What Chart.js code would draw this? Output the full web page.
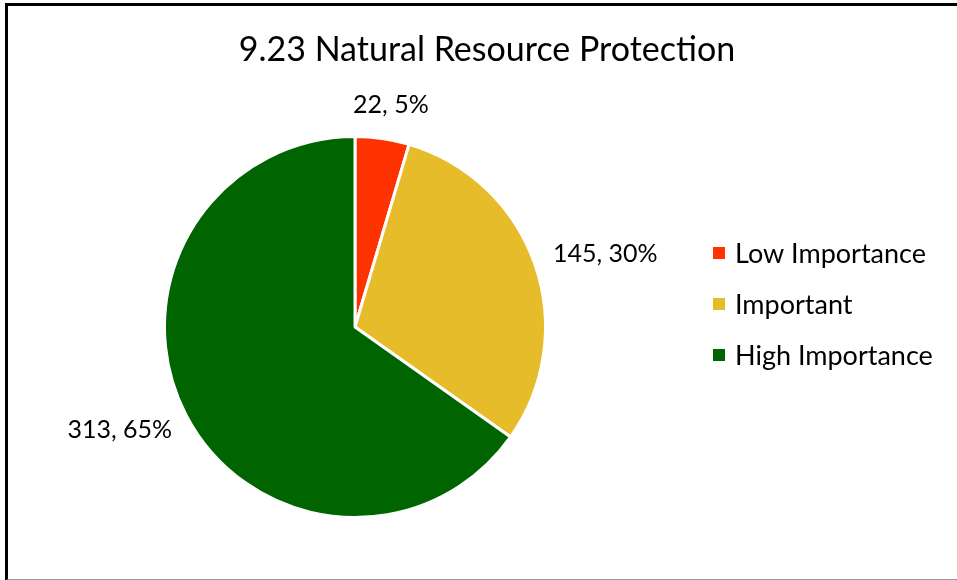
<!DOCTYPE html>
<html>
<head>
<meta charset="utf-8">
<script src="https://cdn.jsdelivr.net/npm/chart.js@4"></script>
<style>
  body { margin: 0; background: #fff; }
  #wrap { position: relative; width: 957px; height: 580px; overflow: hidden; }
  #frame { position: absolute; left: 5px; top: 3px; width: 1000px; height: 573px;
           border-left: 3px solid #000; border-top: 3px solid #000; border-bottom: 2px solid #999; }
  canvas { position: absolute; left: 0; top: 0; }
</style>
</head>
<body>
<div id="wrap">
  <div id="frame"></div>
  <canvas id="pieChart" width="957" height="580"></canvas>
</div>
<script>
// chart data
const chartTitle = '9.23 Natural Resource Protection';
const categories = ['Low Importance', 'Important', 'High Importance'];
const counts = [22, 145, 313];
const percents = ['5%', '30%', '65%'];
const sliceColors = ['#FF3300', '#E6BC2B', '#006400'];

const FONT = 'Lato, "Open Sans", sans-serif';

// title, data labels and legend drawn by hand so they sit where Excel put them
const extrasPlugin = {
    id: 'extras',
    afterDraw(chart) {
        const ctx = chart.ctx;
        const meta = chart.getDatasetMeta(0);
        ctx.save();
        ctx.fillStyle = '#000';

        // title
        ctx.font = '34px ' + FONT;
        ctx.textAlign = 'center';
        ctx.textBaseline = 'middle';
        ctx.fillText(chartTitle, 487, 50);

        // data labels outside each slice
        ctx.font = '25px ' + FONT;
        meta.data.forEach((arc, i) => {
            const mid = (arc.startAngle + arc.endAngle) / 2;
            const d = arc.outerRadius + 22;
            const px = arc.x + Math.cos(mid) * d;
            const py = arc.y + Math.sin(mid) * d;
            const text = counts[i] + ', ' + percents[i];
            const w = ctx.measureText(text).width;
            const cx = px + Math.cos(mid) * w / 2;
            const cy = py + Math.sin(mid) * 12;
            ctx.textAlign = 'center';
            ctx.fillText(text, cx, cy);
        });

        // legend
        ctx.font = '27px ' + FONT;
        ctx.textAlign = 'left';
        categories.forEach((label, i) => {
            const y = 253 + i * 51;
            ctx.fillStyle = sliceColors[i];
            ctx.fillRect(713, y - 6, 12, 12);
            ctx.fillStyle = '#000';
            ctx.fillText(label, 735, y + 1);
        });
        ctx.restore();
    }
};

const ctx = document.getElementById('pieChart').getContext('2d');
new Chart(ctx, {
    type: 'pie',
    data: {
        labels: categories,
        datasets: [{
            data: counts,
            backgroundColor: sliceColors,
            borderColor: '#ffffff',
            borderWidth: 3
        }]
    },
    options: {
        responsive: false,
        animation: false,
        layout: {
            padding: { left: 163, right: 410, top: 135, bottom: 61 }
        },
        plugins: {
            legend: { display: false },
            tooltip: { enabled: false }
        }
    },
    plugins: [extrasPlugin]
});
</script>
</body>
</html>
